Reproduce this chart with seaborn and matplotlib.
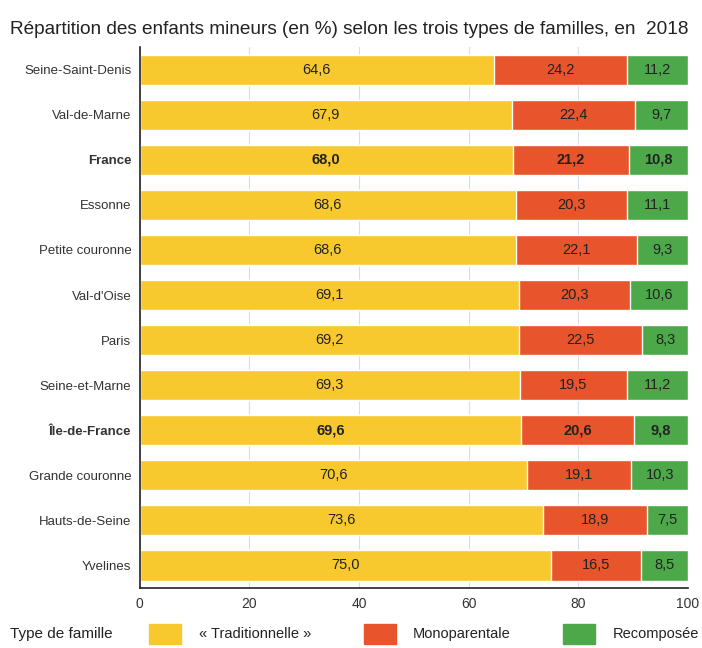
import numpy as np
import pandas as pd
import matplotlib.pyplot as plt
import seaborn as sns

sns.set_theme(style="white")
plt.rcParams['font.family'] = ['Liberation Sans', 'DejaVu Sans']

# données
territoires = ["Seine-Saint-Denis", "Val-de-Marne", "France", "Essonne", "Petite couronne",
               "Val-d'Oise", "Paris", "Seine-et-Marne", "Île-de-France", "Grande couronne",
               "Hauts-de-Seine", "Yvelines"]
traditionnelle = [64.6, 67.9, 68.0, 68.6, 68.6, 69.1, 69.2, 69.3, 69.6, 70.6, 73.6, 75.0]
monoparentale = [24.2, 22.4, 21.2, 20.3, 22.1, 20.3, 22.5, 19.5, 20.6, 19.1, 18.9, 16.5]
recomposee = [11.2, 9.7, 10.8, 11.1, 9.3, 10.6, 8.3, 11.2, 9.8, 10.3, 7.5, 8.5]
en_gras = ["France", "Île-de-France"]

c_trad = "#F8C92F"
c_mono = "#E8542B"
c_reco = "#4DA84A"

df = pd.DataFrame({"territoire": territoires, "trad": traditionnelle,
                   "mono": monoparentale, "reco": recomposee})
df["cum_mono"] = df["trad"] + df["mono"]
df["cum_reco"] = df["cum_mono"] + df["reco"]

fig = plt.figure(figsize=(7.02, 6.48), dpi=100)
ax = fig.add_axes([0.199, 0.093, 0.781, 0.834])

# barres empilées (de la plus longue à la plus courte)
sns.barplot(data=df, y="territoire", x="cum_reco", color=c_reco, width=0.68,
            saturation=1, ax=ax, zorder=2)
sns.barplot(data=df, y="territoire", x="cum_mono", color=c_mono, width=0.68,
            saturation=1, ax=ax, zorder=2)
sns.barplot(data=df, y="territoire", x="trad", color=c_trad, width=0.68,
            saturation=1, ax=ax, zorder=2)

# valeurs
for i, row in df.iterrows():
    w = "bold" if row["territoire"] in en_gras else "normal"
    segs = [(0, row["trad"]), (row["trad"], row["mono"]), (row["cum_mono"], row["reco"])]
    for start, val in segs:
        ax.text(start + val / 2, i, f"{val:.1f}".replace(".", ","), ha="center",
                va="center", fontsize=10.5, color="#222222", fontweight=w, zorder=3)

ax.set_xlim(0, 100)
ax.set_ylim(11.5, -0.5)
ax.set_xlabel("")
ax.set_ylabel("")
ax.set_xticks([0, 20, 40, 60, 80, 100])
ax.set_xticklabels(["0", "20", "40", "60", "80", "100"], fontsize=10, color="#333333")
ax.tick_params(axis="x", direction="inout", length=8, width=1, color="#222222", pad=3)
ax.tick_params(axis="y", length=0, pad=6)
ax.set_yticks(range(len(territoires)))
ax.set_yticklabels(territoires, fontsize=9.5, color="#333333")
for lab in ax.get_yticklabels():
    if lab.get_text() in en_gras:
        lab.set_fontweight("bold")
ax.set_yticks(np.arange(-0.5, len(territoires), 1), minor=True)
ax.tick_params(axis="y", which="minor", length=5, width=1.5, color="#222222", direction="inout")

ax.grid(axis="x", color="#D3DEE8", linewidth=0.8, zorder=0)
ax.set_axisbelow(True)
for s in ["top", "right"]:
    ax.spines[s].set_visible(False)
ax.spines["left"].set_color("#222222")
ax.spines["left"].set_linewidth(1.2)
ax.spines["bottom"].set_color("#222222")
ax.spines["bottom"].set_linewidth(1.2)

fig.text(0.014, 0.955, "Répartition des enfants mineurs (en %) selon les trois types de familles, en  2018",
         fontsize=13.7, color="#222222", va="center", ha="left")

# légende
fig.text(0.014, 0.022, "Type de famille", fontsize=11, color="#222222", va="center")
handles = [plt.Rectangle((0, 0), 1, 1, color=c) for c in [c_trad, c_mono, c_reco]]
fig.legend(handles, ["« Traditionnelle »", "Monoparentale", "Recomposée"], ncol=3,
           loc="center left", bbox_to_anchor=(0.198, 0.022), frameon=False, fontsize=10.5,
           handlelength=2.2, handleheight=1.7, columnspacing=3.6, handletextpad=1.2,
           borderpad=0.2, labelcolor="#222222")

fig.savefig("out.png", dpi=100)
